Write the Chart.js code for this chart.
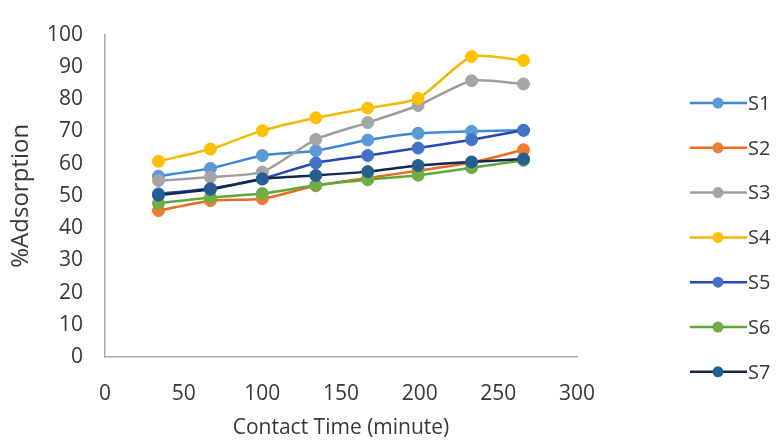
<!DOCTYPE html>
<html>
<head>
<meta charset="utf-8">
<script src="https://cdn.jsdelivr.net/npm/chart.js@4/dist/chart.umd.min.js"></script>
<style>
  html, body { margin: 0; padding: 0; background: #ffffff; }
  #wrap { width: 777px; height: 441px; position: relative; }
</style>
</head>
<body>
<div id="wrap"><canvas id="chart" width="777" height="441"></canvas></div>
<script>
// Contact time (minute) of each sample reading
const contactTime = [34, 67, 100, 134, 167, 199, 233, 266];

// %Adsorption per sample
const s1 = [56.1, 58.5, 62.5, 64.0, 67.3, 69.4, 70.0, 70.3];
const s2 = [45.4, 48.5, 49.1, 53.1, 55.5, 57.8, 60.3, 64.3];
const s3 = [54.7, 55.8, 57.4, 67.5, 72.7, 78.0, 85.7, 84.7];
const s4 = [60.7, 64.5, 70.2, 74.2, 77.2, 80.2, 93.2, 92.0];
const s5 = [50.6, 52.3, 55.3, 60.2, 62.5, 64.8, 67.4, 70.3];
const s6 = [47.7, 49.5, 50.7, 53.3, 55.0, 56.4, 58.7, 61.0];
const s7 = [50.2, 52.0, 55.2, 56.3, 57.5, 59.4, 60.5, 61.4];

const seriesNames = ['S1', 'S2', 'S3', 'S4', 'S5', 'S6', 'S7'];
const seriesValues = [s1, s2, s3, s4, s5, s6, s7];

// Axis tick settings
const yTicks = { min: 0, max: 100, step: 10 };
const xTicks = { min: 0, max: 300, step: 50 };

const lineColors  = ['#3F88D2', '#EC6A1E', '#9E9E9E', '#F5B800', '#2447B5', '#5EA83A', '#14284F'];
const markerColors = ['#5B9BD5', '#ED7D31', '#A5A5A5', '#FFC000', '#4472C4', '#70AD47', '#255E91'];

const FONT = "'Open Sans', 'DejaVu Sans', sans-serif";
const TEXT = '#383838';

const datasets = seriesValues.map((vals, i) => ({
  label: seriesNames[i],
  data: vals.map((v, k) => ({ x: contactTime[k], y: v })),
  borderColor: lineColors[i],
  backgroundColor: markerColors[i],
  pointBackgroundColor: markerColors[i],
  pointBorderColor: markerColors[i],
  pointRadius: 6,
  pointBorderWidth: 1,
  borderWidth: 2.5,
  tension: 0.2,
  fill: false,
  order: seriesNames.length - i   // later series drawn on top
}));

// Legend on the right: short line with a marker, then the series name
const sideLegend = {
  id: 'sideLegend',
  afterDraw(chart) {
    const ctx = chart.ctx;
    const x0 = 690, x1 = 747, mx = 718;
    const yStart = 103, gap = 44.8;
    ctx.save();
    ctx.font = "20px " + FONT;
    ctx.textAlign = 'left';
    ctx.textBaseline = 'middle';
    chart.data.datasets.forEach((ds, i) => {
      const y = yStart + i * gap;
      ctx.strokeStyle = ds.borderColor;
      ctx.lineWidth = 2.5;
      ctx.beginPath();
      ctx.moveTo(x0, y);
      ctx.lineTo(x1, y);
      ctx.stroke();
      ctx.fillStyle = ds.pointBackgroundColor;
      ctx.beginPath();
      ctx.arc(mx, y, 5.5, 0, Math.PI * 2);
      ctx.fill();
      ctx.fillStyle = TEXT;
      ctx.fillText(ds.label, x1 + 1, y + 1);
    });
    ctx.restore();
  }
};

new Chart(document.getElementById('chart'), {
  type: 'line',
  data: { datasets },
  plugins: [sideLegend],
  options: {
    responsive: false,
    animation: false,
    layout: { padding: { top: 24, right: 200, bottom: 0, left: 0 } },
    plugins: {
      legend: { display: false },
      tooltip: { enabled: false }
    },
    scales: {
      x: {
        type: 'linear',
        min: xTicks.min,
        max: xTicks.max,
        grid: { display: false, drawTicks: false },
        border: { display: true, color: '#ABABAB', width: 1.5 },
        ticks: {
          stepSize: xTicks.step,
          color: TEXT,
          font: { family: FONT, size: 21 },
          padding: 24,
          maxRotation: 0
        },
        title: {
          display: true,
          text: 'Contact Time (minute)',
          color: TEXT,
          font: { family: FONT, size: 21 },
          padding: { top: 0, bottom: 0 }
        },
        afterFit(scale) { scale.height = 84; }
      },
      y: {
        min: yTicks.min,
        max: yTicks.max,
        grid: { display: false, drawTicks: false },
        border: { display: true, color: '#ABABAB', width: 1.5 },
        ticks: {
          stepSize: yTicks.step,
          color: TEXT,
          font: { family: FONT, size: 21 },
          padding: 22
        },
        title: {
          display: true,
          text: '%Adsorption',
          color: TEXT,
          font: { family: FONT, size: 24 },
          padding: { top: 7, bottom: 0 }
        },
        afterFit(scale) { scale.width = 105; }
      }
    }
  }
});
</script>
</body>
</html>
